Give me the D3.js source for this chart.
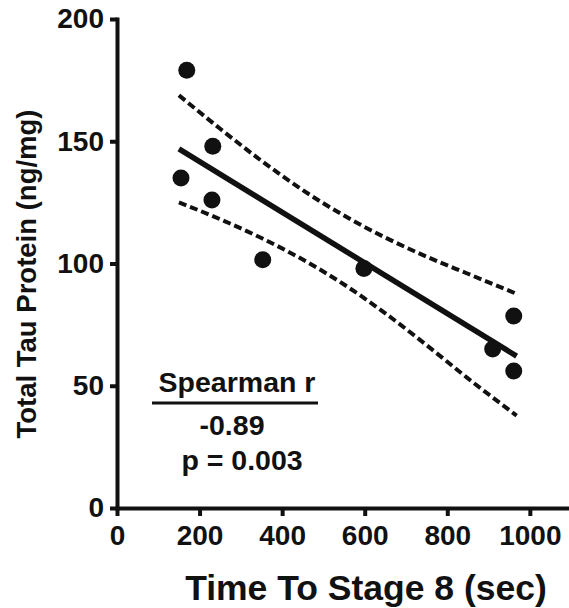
<!DOCTYPE html>
<html>
<head>
<meta charset="utf-8">
<script src="https://cdn.jsdelivr.net/npm/d3@7"></script>
<style>
  body { margin: 0; background: #fff; }
  text { font-family: "Liberation Sans", Arial, sans-serif; font-weight: bold; fill: #111; }
</style>
</head>
<body>
<div id="chart"></div>
<script>
// measured points: time to stage 8 (sec) vs total tau (ng/mg)
const timeSec = [169, 232, 155, 230, 353, 598, 910, 961, 961];
const tauNgMg = [179, 148, 135, 126, 101.5, 98, 65, 78.5, 56];

// linear fit endpoints
const fitX = [150, 968];
const fitY = [146.9, 62.1];

// 95% confidence band
const bandX = [150, 250, 350, 450, 550, 650, 750, 850, 968];
const upperBand = [168.8, 155.1, 142.0, 130.0, 119.6, 110.6, 102.8, 95.8, 87.6];
const lowerBand = [125.0, 118.1, 110.4, 101.6, 91.4, 79.6, 66.6, 53.0, 37.8];

const xTicks = [0, 200, 400, 600, 800, 1000];
const yTicks = [0, 50, 100, 150, 200];

const width = 569, height = 608;

const svg = d3.select('#chart')
    .append('svg')
    .attr('width', width)
    .attr('height', height);

const x = d3.scaleLinear()
    .domain([0, 1090])
    .range([117, 567]);

const y = d3.scaleLinear()
    .domain([0, 200])
    .range([508, 19]);

// axes
const xAxis = svg.append('g')
    .attr('transform', `translate(0,${y(0)})`)
    .call(d3.axisBottom(x).tickValues(xTicks).tickFormat(d3.format('d'))
        .tickSize(8).tickSizeOuter(0).tickPadding(9));

const yAxis = svg.append('g')
    .attr('transform', `translate(${x(0)},0)`)
    .call(d3.axisLeft(y).tickValues(yTicks).tickFormat(d3.format('d'))
        .tickSize(7).tickSizeOuter(0).tickPadding(6));

[xAxis, yAxis].forEach(g => {
    g.select('.domain').attr('stroke', '#111').attr('stroke-width', 4).attr('stroke-linecap', 'square');
    g.selectAll('.tick line').attr('stroke', '#111').attr('stroke-width', 4);
    g.selectAll('.tick text').style('font-size', '28px').attr('fill', '#111');
});

// confidence band
const bandLine = d3.line().curve(d3.curveMonotoneX).x(d => x(d[0])).y(d => y(d[1]));

[upperBand, lowerBand].forEach(band => {
    svg.append('path')
        .datum(bandX.map((v, i) => [v, band[i]]))
        .attr('fill', 'none')
        .attr('stroke', '#111')
        .attr('stroke-width', 4)
        .attr('stroke-dasharray', '8,4')
        .attr('d', bandLine);
});

// fit line
svg.append('path')
    .datum(fitX.map((v, i) => [v, fitY[i]]))
    .attr('fill', 'none')
    .attr('stroke', '#111')
    .attr('stroke-width', 5.5)
    .attr('d', d3.line().x(d => x(d[0])).y(d => y(d[1])));

// points
svg.selectAll('circle.pt')
    .data(timeSec.map((v, i) => [v, tauNgMg[i]]))
    .enter()
    .append('circle')
    .attr('class', 'pt')
    .attr('cx', d => x(d[0]))
    .attr('cy', d => y(d[1]))
    .attr('r', 8.5)
    .attr('fill', '#111');

// axis titles
svg.append('text')
    .attr('x', 366)
    .attr('y', 600)
    .attr('text-anchor', 'middle')
    .style('font-size', '35.5px')
    .text('Time To Stage 8 (sec)');

svg.append('text')
    .attr('transform', 'translate(36,274) rotate(-90)')
    .attr('text-anchor', 'middle')
    .style('font-size', '27.5px')
    .text('Total Tau Protein (ng/mg)');

// stats annotation
svg.append('text')
    .attr('x', 237).attr('y', 392)
    .attr('text-anchor', 'middle')
    .style('font-size', '28.5px')
    .text('Spearman r');

svg.append('line')
    .attr('x1', 152).attr('x2', 318)
    .attr('y1', 403).attr('y2', 403)
    .attr('stroke', '#111')
    .attr('stroke-width', 3);

svg.append('text')
    .attr('x', 232).attr('y', 435)
    .attr('text-anchor', 'middle')
    .style('font-size', '28.5px')
    .text('-0.89');

svg.append('text')
    .attr('x', 242).attr('y', 470)
    .attr('text-anchor', 'middle')
    .style('font-size', '28.5px')
    .text('p = 0.003');
</script>
</body>
</html>
